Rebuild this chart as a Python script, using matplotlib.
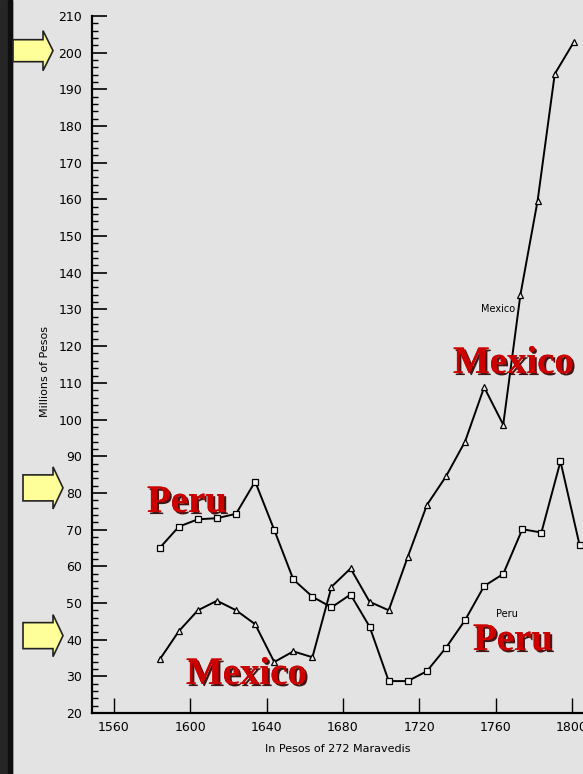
import numpy as np
import matplotlib
matplotlib.use("Agg")
import matplotlib.pyplot as plt
from matplotlib.patches import Polygon, Rectangle
import matplotlib.patheffects as pe

# decade points (millions of pesos)
years = [1584, 1594, 1604, 1614, 1624, 1634, 1644, 1654, 1664, 1674, 1684, 1694,
         1704, 1714, 1724, 1734, 1744, 1754, 1764, 1774, 1784, 1794, 1804]
peru = [65, 70.8, 72.8, 73.1, 74.3, 83.1, 69.9, 56.4, 51.7, 48.8, 52.3, 43.5,
        28.7, 28.7, 31.4, 37.8, 45.3, 54.6, 57.9, 70.1, 69.2, 88.6, 65.8]
mexico_years = [1584, 1594, 1604, 1614, 1624, 1634, 1644, 1654, 1664, 1674, 1684, 1694,
                1704, 1714, 1724, 1734, 1744, 1754, 1764, 1773, 1782, 1791, 1801]
mexico = [34.6, 42.3, 48, 50.6, 48, 44.2, 33.9, 36.8, 35.2, 54.4, 59.4, 50.3,
          48, 62.6, 76.7, 84.5, 94, 108.8, 98.6, 134, 159.6, 194.2, 202.9]
xticks = [1560, 1600, 1640, 1680, 1720, 1760, 1800]
yticks = list(range(20, 211, 10))
arrow_values = [200, 80, 40]

W, H = 583, 774
bg = "#e3e3e3"
fig = plt.figure(figsize=(W / 100, H / 100), dpi=100, facecolor=bg)

def fx(px):
    return px / W

def fy(py):
    return 1 - py / H

ax = fig.add_axes([fx(92), fy(713), 1 - fx(92), fy(16) - fy(713)])
ax.set_facecolor("none")
ax.set_xlim(1548.5, 1805.8)
ax.set_ylim(20, 210)

ax.plot(years, peru, color="black", lw=1.4, marker="s", ms=5,
        mfc="#f2f2f2", mec="black", mew=0.9)
ax.plot(mexico_years, mexico, color="black", lw=1.4, marker="^", ms=5,
        mfc="#f2f2f2", mec="black", mew=0.9)

for s in ["top", "right"]:
    ax.spines[s].set_visible(False)
for s in ["left", "bottom"]:
    ax.spines[s].set_linewidth(1.6)

ax.set_yticks(yticks)
ax.set_yticks(np.arange(20, 211, 2), minor=True)
ax.set_xticks(xticks)
ax.tick_params(axis="y", which="major", direction="in", length=11, width=1.2,
               labelsize=9, pad=7)
ax.tick_params(axis="y", which="minor", direction="in", length=4.5, width=1.0)
ax.tick_params(axis="x", which="major", direction="in", length=11, width=1.0,
               labelsize=9, pad=6)
ax.set_ylabel("Millions of Pesos", fontsize=8, labelpad=8)
ax.yaxis.set_label_coords(-0.085, 0.49)
ax.set_xlabel("In Pesos of 272 Maravedis", fontsize=8, labelpad=7)

# small original labels
ax.text(1770, 130, "Mexico", fontsize=7, ha="right", va="center")
ax.text(1766, 47, "Peru", fontsize=7, ha="center", va="center")

# big red overlay labels
shadow = [pe.withSimplePatchShadow(offset=(1.5, -1.5), shadow_rgbFace="#300000", alpha=0.9),
          pe.Normal()]
big = dict(family="Liberation Serif", fontweight="bold", fontsize=28,
           color="#cc0000", path_effects=shadow)
fig.text(fx(147), fy(512), "Peru", ha="left", va="baseline", **big)
fig.text(fx(186), fy(684), "Mexico", ha="left", va="baseline", **big)
fig.text(fx(453), fy(373), "Mexico", ha="left", va="baseline", **big)
fig.text(fx(473), fy(650), "Peru", ha="left", va="baseline", **big)

# dark edge of the scan
fig.patches.append(Rectangle((0, 0), fx(12), 1, transform=fig.transFigure,
                             color="#262626", zorder=0))
fig.patches.append(Rectangle((fx(8), 0), fx(4), 1, transform=fig.transFigure,
                             color="#0e0e0e", zorder=0))

# yellow arrows pointing at values
def arrow(left, right, tip, ymid, half_body, half_head):
    pts = [(left, ymid - half_body), (right, ymid - half_body), (right, ymid - half_head),
           (tip, ymid), (right, ymid + half_head), (right, ymid + half_body),
           (left, ymid + half_body)]
    pts = [(fx(a), fy(b)) for a, b in pts]
    fig.patches.append(Polygon(pts, closed=True, transform=fig.transFigure,
                               facecolor="#ffff99", edgecolor="#222222", lw=1.2, zorder=3))

ymap = lambda v: 713 - (v - 20) * (713 - 16) / 190
arrow(13, 43, 53, ymap(arrow_values[0]) - 2, 11, 20)
arrow(23, 53, 63, ymap(arrow_values[1]) - 5, 13, 21)
arrow(23, 53, 63, ymap(arrow_values[2]) - 4, 13, 21)

fig.savefig("out.png", dpi=100, facecolor=bg)
